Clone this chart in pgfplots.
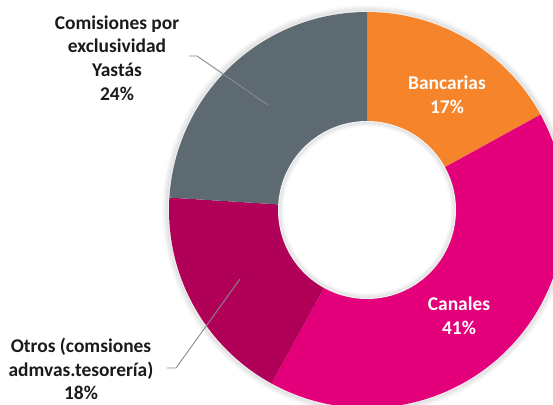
\documentclass[border=0pt]{standalone}
\usepackage{pgfplots}
\pgfplotsset{compat=1.18}
\usepackage{fontspec}
\setmainfont{Carlito}
\definecolor{cOrange}{HTML}{F5842A}
\definecolor{cPink}{HTML}{E3007A}
\definecolor{cDark}{HTML}{B00058}
\definecolor{cGray}{HTML}{5E6A72}
\definecolor{cText}{HTML}{1A1A1A}
\definecolor{cLine}{HTML}{8A8A8A}
% slice values (percent), clockwise from 12 o'clock
\def\vA{17} % Bancarias
\def\vB{41} % Canales
\def\vC{18} % Otros
\def\vD{24} % Comisiones
\def\cx{367}\def\cy{195}\def\Rout{198}\def\Rin{89}
\pgfmathsetmacro{\aA}{90}
\pgfmathsetmacro{\aB}{90-3.6*\vA}
\pgfmathsetmacro{\aC}{90-3.6*(\vA+\vB)}
\pgfmathsetmacro{\aD}{90-3.6*(\vA+\vB+\vC)}
\pgfmathsetmacro{\aE}{90-3.6*(\vA+\vB+\vC+\vD)}
\begin{document}
\begin{tikzpicture}
\useasboundingbox (0,0) rectangle (553bp,405bp);
\begin{axis}[at={(0,0)},anchor=south west,
  width=553bp,height=405bp,scale only axis,
  xmin=0,xmax=553,ymin=0,ymax=405,hide axis,clip=true]
% outer soft shadow
\pgfplotsinvokeforeach{1,2,3,4,5}{
  \addplot[draw=black,draw opacity=0.075-0.013*#1,line width=2.5bp,domain=0:360,samples=150,forget plot]
    ({\cx+(\Rout+1.2*#1)*cos(x)},{\cy+(\Rout+1.2*#1)*sin(x)});
}
\addplot[fill=cOrange,draw=none,domain=\aA:\aB,samples=60] ({\cx+\Rout*cos(x)},{\cy+\Rout*sin(x)}) -- (axis cs:\cx,\cy) -- cycle;
\addplot[fill=cPink,draw=none,domain=\aB:\aC,samples=120] ({\cx+\Rout*cos(x)},{\cy+\Rout*sin(x)}) -- (axis cs:\cx,\cy) -- cycle;
\addplot[fill=cDark,draw=none,domain=\aC:\aD,samples=60] ({\cx+\Rout*cos(x)},{\cy+\Rout*sin(x)}) -- (axis cs:\cx,\cy) -- cycle;
\addplot[fill=cGray,draw=none,domain=\aD:\aE,samples=80] ({\cx+\Rout*cos(x)},{\cy+\Rout*sin(x)}) -- (axis cs:\cx,\cy) -- cycle;
% hole
\addplot[fill=white,draw=none,domain=0:360,samples=150] ({\cx+\Rin*cos(x)},{\cy+\Rin*sin(x)}) -- cycle;
\pgfplotsinvokeforeach{1,2,3,4}{
  \addplot[draw=black,draw opacity=0.07-0.014*#1,line width=2.5bp,domain=0:360,samples=150,forget plot]
    ({\cx+(\Rin-1.2*#1)*cos(x)},{\cy+(\Rin-1.2*#1)*sin(x)});
}
% leader lines
\addplot[cLine,line width=0.9bp] coordinates {(189,349) (197,349) (268,300)};
\addplot[cLine,line width=0.9bp] coordinates {(167,37) (176,37) (240,126)};
% labels
\tikzset{lab/.style={font=\fontsize{19.5}{23.8}\selectfont\bfseries,align=center,inner sep=0pt}}
\node[lab,text=cText] at (axis cs:117,347) {Comisiones por\\exclusividad\\Yastás\\24\%};
\node[lab,text=white] at (axis cs:447,310) {Bancarias\\17\%};
\node[lab,text=white] at (axis cs:459,89) {Canales\\41\%};
\node[lab,text=cText] at (axis cs:81,36) {Otros (comsiones\\admvas.tesorería)\\18\%};
\end{axis}
\end{tikzpicture}
\end{document}
